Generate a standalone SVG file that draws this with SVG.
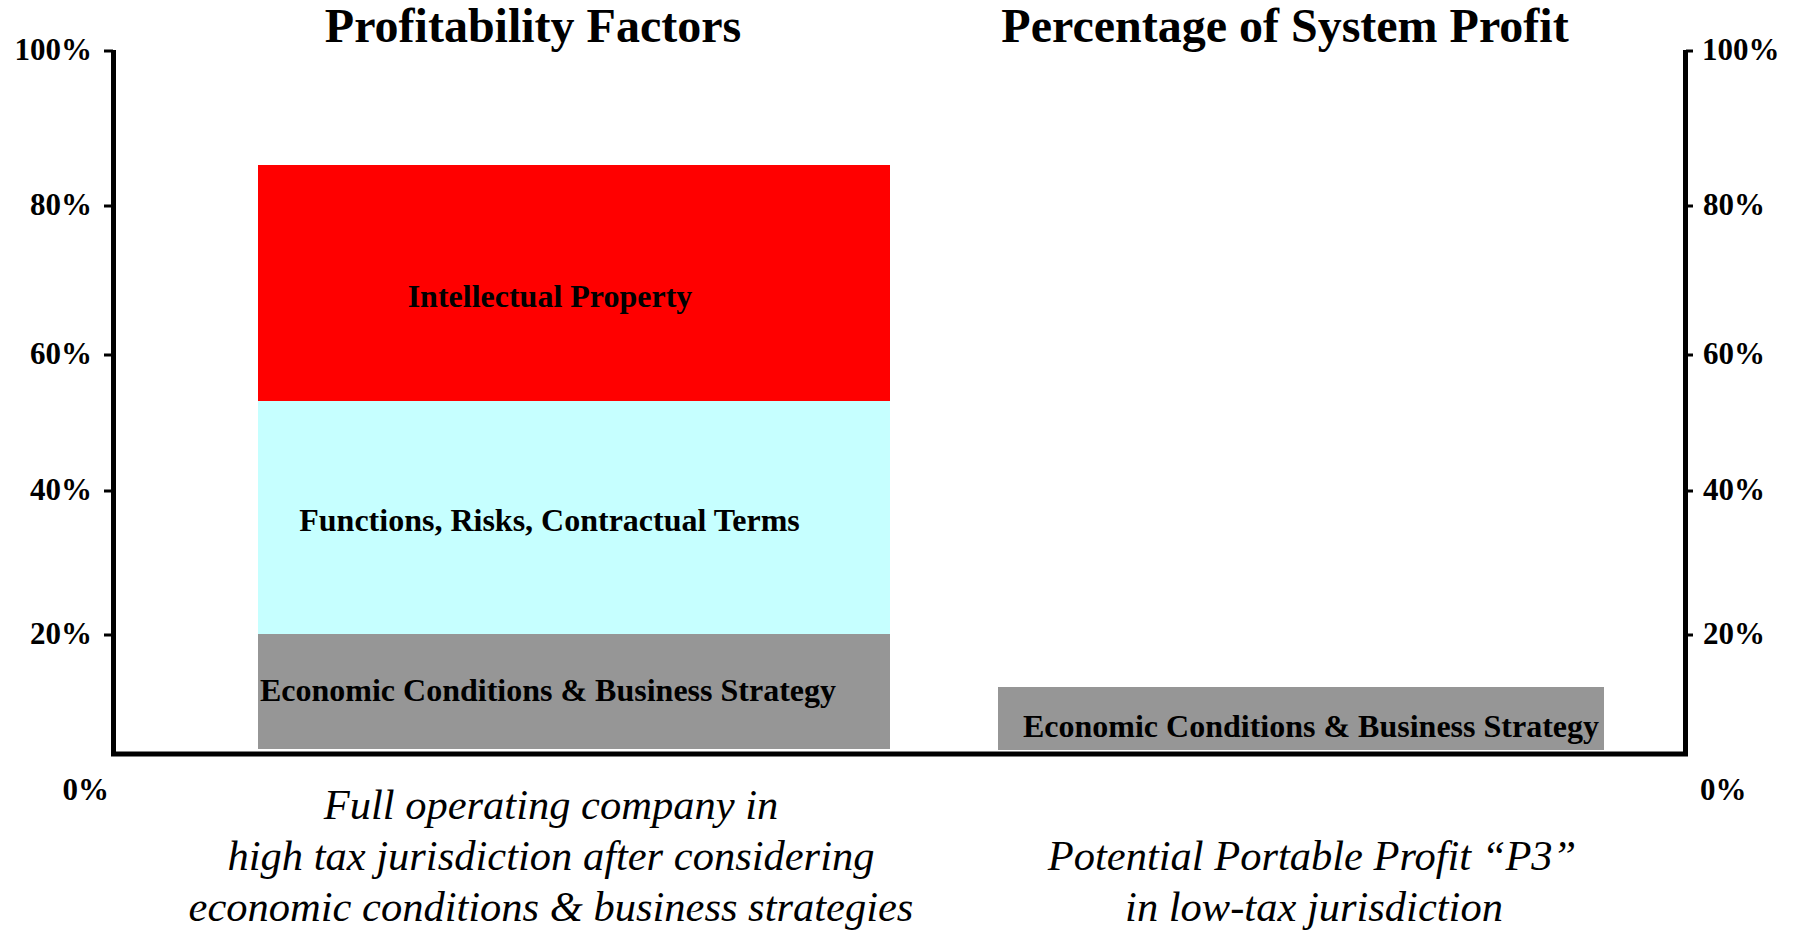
<svg xmlns="http://www.w3.org/2000/svg" width="1793" height="933" viewBox="0 0 1793 933">
<style>
.t{font-family:"Liberation Serif","Times New Roman",serif;fill:#000}
.title{font-size:48px;font-weight:bold;text-anchor:middle}
.ax{font-size:31px;font-weight:bold}
.lbl{font-size:32px;font-weight:bold;text-anchor:middle}
.cap{font-size:42.5px;font-style:italic;text-anchor:middle}
.axis{stroke:#000;stroke-width:5;fill:none}
.tick{stroke:#000;stroke-width:3}
</style>
<rect width="1793" height="933" fill="#fff"/>
<g id="titles">
<text class="t title" x="533" y="42">Profitability Factors</text>
<text class="t title" x="1285" y="42">Percentage of System Profit</text>
</g>
<g id="bar-left">
<g id="ip"><rect x="258" y="165" width="632" height="236" fill="#ff0000"/>
<text class="t lbl" x="550" y="307">Intellectual Property</text></g>
<g id="frc"><rect x="258" y="401" width="632" height="233" fill="#c6ffff"/>
<text class="t lbl" x="549.5" y="531">Functions, Risks, Contractual Terms</text></g>
<g id="ecbs-left"><rect x="258" y="634" width="632" height="115" fill="#969696"/>
<text class="t lbl" x="548" y="701">Economic Conditions &amp; Business Strategy</text></g>
</g>
<g id="bar-right">
<rect x="998" y="687" width="606" height="63" fill="#969696"/>
<text class="t lbl" x="1311" y="737">Economic Conditions &amp; Business Strategy</text>
</g>
<g id="axes">
<path class="axis" d="M113.5 50 V754 H1685.5 V50"/>
<g class="tick">
<line x1="104" y1="51" x2="113" y2="51"/>
<line x1="104" y1="206" x2="113" y2="206"/>
<line x1="104" y1="355" x2="113" y2="355"/>
<line x1="104" y1="491" x2="113" y2="491"/>
<line x1="104" y1="635" x2="113" y2="635"/>
<line x1="1686" y1="51" x2="1693" y2="51"/>
<line x1="1686" y1="206" x2="1693" y2="206"/>
<line x1="1686" y1="355" x2="1693" y2="355"/>
<line x1="1686" y1="491" x2="1693" y2="491"/>
<line x1="1686" y1="635" x2="1693" y2="635"/>
</g>
<g id="left-labels" class="t ax" text-anchor="end">
<text x="92" y="60">100%</text>
<text x="92" y="215">80%</text>
<text x="92" y="364">60%</text>
<text x="92" y="500">40%</text>
<text x="92" y="644">20%</text>
<text x="109" y="800">0%</text>
</g>
<g id="right-labels" class="t ax">
<text x="1702" y="60">100%</text>
<text x="1703" y="215">80%</text>
<text x="1703" y="364">60%</text>
<text x="1703" y="500">40%</text>
<text x="1703" y="644">20%</text>
<text x="1700" y="800">0%</text>
</g>
</g>
<g id="captions">
<text class="t cap" x="551" y="819">Full operating company in</text>
<text class="t cap" x="551" y="870">high tax jurisdiction after considering</text>
<text class="t cap" x="551" y="921">economic conditions &amp; business strategies</text>
<text class="t cap" x="1312" y="870">Potential Portable Profit “P3”</text>
<text class="t cap" x="1314" y="921">in low-tax jurisdiction</text>
</g>
</svg>
